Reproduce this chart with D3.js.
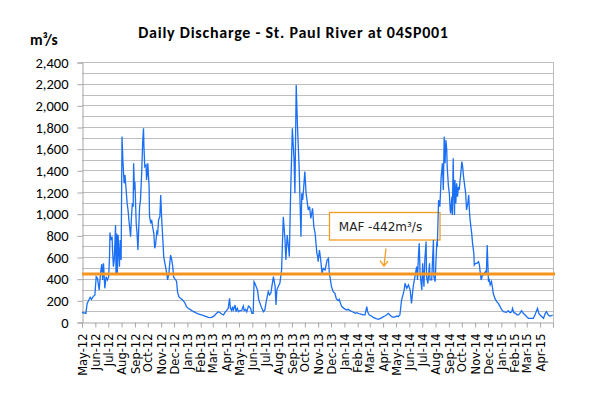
<html>
<head>
  <style>
  body { margin: 0; background: white; }
  svg text { fill: #000; }
  </style>
  <script src="https://d3js.org/d3.v7.min.js"></script>
</head>
<body>
  <script type="text/javascript">
  // day number since 1 May 2012 and daily discharge (m3/s)
  var dayIdx = [0,9,12,19,22,26,30,33,36,40,43,46,48,50,53,56,59,62,64,65,67,70,71,73,75,78,79,81,82,84,87,89,91,93,95,98,100,102,105,107,109,111,113,115,117,119,120,122,123,126,128,130,132,134,136,139,141,143,144,146,149,150,152,153,156,157,160,162,164,167,169,171,174,176,178,181,183,185,188,190,192,195,197,199,202,204,206,208,211,213,215,218,220,222,225,229,234,239,243,247,251,255,263,270,278,286,294,299,305,309,313,317,321,325,329,332,336,340,343,345,348,350,352,356,358,361,364,367,371,375,377,380,383,387,389,392,395,398,400,402,405,408,411,414,418,422,425,429,433,436,439,445,449,451,453,456,460,464,468,472,474,477,480,482,485,489,493,495,498,501,505,509,511,513,515,518,521,524,526,529,532,534,536,539,542,546,548,549,552,555,558,561,565,570,573,575,577,580,584,588,591,594,596,598,601,604,609,615,619,623,629,635,639,646,654,658,662,664,668,673,677,684,689,694,701,704,708,712,716,720,725,732,735,739,743,747,749,751,755,759,763,766,770,774,778,780,782,784,786,790,792,794,795,797,800,801,804,808,809,813,817,818,821,823,825,826,829,832,835,838,840,842,844,846,848,849,852,854,856,857,860,861,863,864,866,867,869,871,873,875,877,879,880,883,885,887,890,892,894,897,899,901,902,904,906,908,911,912,915,918,922,924,926,928,931,933,935,938,940,942,945,947,949,952,954,956,960,964,968,972,976,980,984,987,991,995,999,1001,1004,1008,1011,1015,1018,1022,1026,1030,1034,1038,1042,1049,1053,1059,1062,1065,1069,1073,1077,1080,1084,1088,1092,1094];
  var flow = [89,80,172,228,209,234,249,418,403,295,449,535,388,542,311,418,388,418,603,825,757,788,665,511,572,895,449,818,449,803,511,757,572,1711,1495,1280,1357,1249,1095,1034,942,865,788,972,1095,1065,1465,1218,1295,911,818,665,880,1065,1126,1403,1649,1788,1618,1434,1449,1311,1372,1465,1249,972,911,942,880,818,680,711,834,818,942,972,1172,972,757,603,557,495,449,388,449,542,618,588,511,418,403,388,372,280,234,218,203,178,142,126,117,105,89,74,65,55,43,40,49,65,80,95,86,74,65,86,105,126,218,126,105,142,111,157,95,126,95,105,105,148,105,117,95,148,142,126,80,80,372,357,326,295,203,172,126,95,111,203,280,249,265,418,326,157,295,326,357,480,972,757,572,803,695,603,1188,1788,1495,1188,2188,1803,1403,788,1188,1126,1218,1388,1188,1095,1034,1065,957,1003,1049,880,818,634,603,557,665,572,449,495,480,572,588,449,403,326,280,265,218,203,197,209,172,142,126,111,117,105,95,80,86,74,65,65,142,95,65,55,43,31,25,34,49,55,65,80,65,49,43,55,49,65,203,265,295,357,311,342,295,172,326,418,511,388,603,726,449,295,542,388,326,572,742,418,357,542,388,388,757,418,372,572,742,695,1126,1065,1342,1465,1218,1711,1465,1680,1588,1434,1249,1188,1034,1003,1157,988,1511,1249,988,1311,1095,1280,1157,1249,1218,1311,1342,1480,1434,1342,1249,1188,1034,1095,1172,1003,957,880,818,726,634,526,542,542,557,526,449,388,434,434,449,465,434,711,372,388,342,372,326,265,218,188,172,142,111,95,92,89,105,86,95,126,86,80,65,65,80,105,80,65,49,34,34,34,65,126,80,65,49,34,80,95,65,55,58,65];

  var mafValue = 442;
  var mafLabel = 'MAF -442m³/s';
  var yTicks = d3.range(0, 2401, 200);
  var yGrid = d3.range(100, 2401, 100);
  var startDate = new Date(2012, 4, 1);
  var endDate = new Date(2015, 4, 1);

  var screen = {width: 590, height: 394};
  var plot = {left: 82, right: 553, top: 62, bottom: 322};

  var data = dayIdx.map(function(d, i){
    return {date: d3.timeDay.offset(startDate, d), value: flow[i]};
  });

  var xScale = d3.scaleTime()
    .domain([startDate, endDate])
    .range([plot.left, plot.right]);

  var yScale = d3.scaleLinear()
    .domain([0, 2400])
    .range([plot.bottom, plot.top]);

  var svg = d3.select("body").append("svg")
    .attr('width', screen.width)
    .attr('height', screen.height);

  // gridlines
  svg.selectAll('line.grid')
    .data(yGrid)
    .enter()
    .append('line')
    .attr('class', 'grid')
    .attr('x1', plot.left)
    .attr('x2', plot.right)
    .attr('y1', function(d){ return Math.round(yScale(d)) + 0.5 })
    .attr('y2', function(d){ return Math.round(yScale(d)) + 0.5 })
    .style('stroke', '#bdbdbd')
    .style('stroke-width', 1);

  // right border of plot area
  svg.append('line')
    .attr('x1', plot.right + 0.5).attr('x2', plot.right + 0.5)
    .attr('y1', plot.top).attr('y2', plot.bottom)
    .style('stroke', '#bdbdbd');

  // y axis
  var yAxis = d3.axisLeft(yScale)
    .tickValues(yTicks)
    .tickSize(5)
    .tickPadding(9)
    .tickFormat(d3.format(','));
  var gy = svg.append('g')
    .attr('transform', 'translate(' + (plot.left + 0.5) + ',0.5)')
    .call(yAxis);
  gy.selectAll('path, line').style('stroke', '#a6a6a6');
  gy.selectAll('text')
    .style('font-family', 'Carlito, Lato, sans-serif')
    .style('font-size', '14.5px')
    .style('fill', '#000');

  // x axis (month boundaries)
  var months = d3.timeMonth.range(startDate, d3.timeDay.offset(endDate, 1));
  var xAxis = d3.axisBottom(xScale)
    .tickValues(months)
    .tickSize(5)
    .tickPadding(11)
    .tickFormat(function(d){ return d < endDate ? d3.timeFormat('%b-%y')(d) : '' });
  var gx = svg.append('g')
    .attr('transform', 'translate(0,' + (plot.bottom + 0.5) + ')')
    .call(xAxis);
  gx.selectAll('path, line').style('stroke', '#a6a6a6');
  gx.selectAll('text')
    .attr('transform', 'rotate(-90)')
    .attr('x', -11)
    .attr('y', 0)
    .attr('dy', '0.36em')
    .style('text-anchor', 'end')
    .style('font-family', 'DejaVu Sans, Verdana, sans-serif')
    .style('font-size', '11.5px')
    .style('fill', '#000');

  // annotation box (drawn under the series)
  svg.append('rect')
    .attr('x', 329.5)
    .attr('y', 212.5)
    .attr('width', 110.5)
    .attr('height', 27.5)
    .style('fill', 'white')
    .style('stroke', '#f39c1e')
    .style('stroke-width', 1.3);

  // discharge line
  var line = d3.line()
    .x(function(d){ return xScale(d.date) })
    .y(function(d){ return yScale(d.value) });

  svg.append('path')
    .datum(data)
    .attr('d', line)
    .style('fill', 'none')
    .style('stroke', '#1a6ff5')
    .style('stroke-width', 1.3);

  // mean annual flow line
  svg.append('line')
    .attr('x1', plot.left)
    .attr('x2', plot.right + 2)
    .attr('y1', yScale(mafValue))
    .attr('y2', yScale(mafValue))
    .style('stroke', '#f7941d')
    .style('stroke-width', 3);

  svg.append('text')
    .attr('x', 380.5)
    .attr('y', 230.5)
    .attr('text-anchor', 'middle')
    .style('font-family', 'DejaVu Sans, Verdana, sans-serif')
    .style('font-size', '12px')
    .style('fill', '#222')
    .text(mafLabel);

  // arrow pointing to the MAF line
  var tip = {x: 384, y: yScale(mafValue) - 8};
  svg.append('path')
    .attr('d', 'M386,248.5 L' + tip.x + ',' + tip.y + ' M380,' + (tip.y - 5.5) + ' L' + tip.x + ',' + tip.y + ' L388,' + (tip.y - 5))
    .style('fill', 'none')
    .style('stroke', '#f7a02a')
    .style('stroke-width', 1.4);

  // title and unit
  svg.append('text')
    .attr('x', 293.5)
    .attr('y', 38)
    .attr('text-anchor', 'middle')
    .style('font-family', 'Carlito, Lato, sans-serif')
    .style('font-weight', 'bold')
    .style('font-size', '16px')
    .style('letter-spacing', '0.75px')
    .text('Daily Discharge - St. Paul River at 04SP001');

  svg.append('text')
    .attr('x', 30)
    .attr('y', 45)
    .style('font-family', 'Carlito, Lato, sans-serif')
    .style('font-weight', 'bold')
    .style('font-size', '15.5px')
    .text('m³/s');

  </script>
</body>
</html>
